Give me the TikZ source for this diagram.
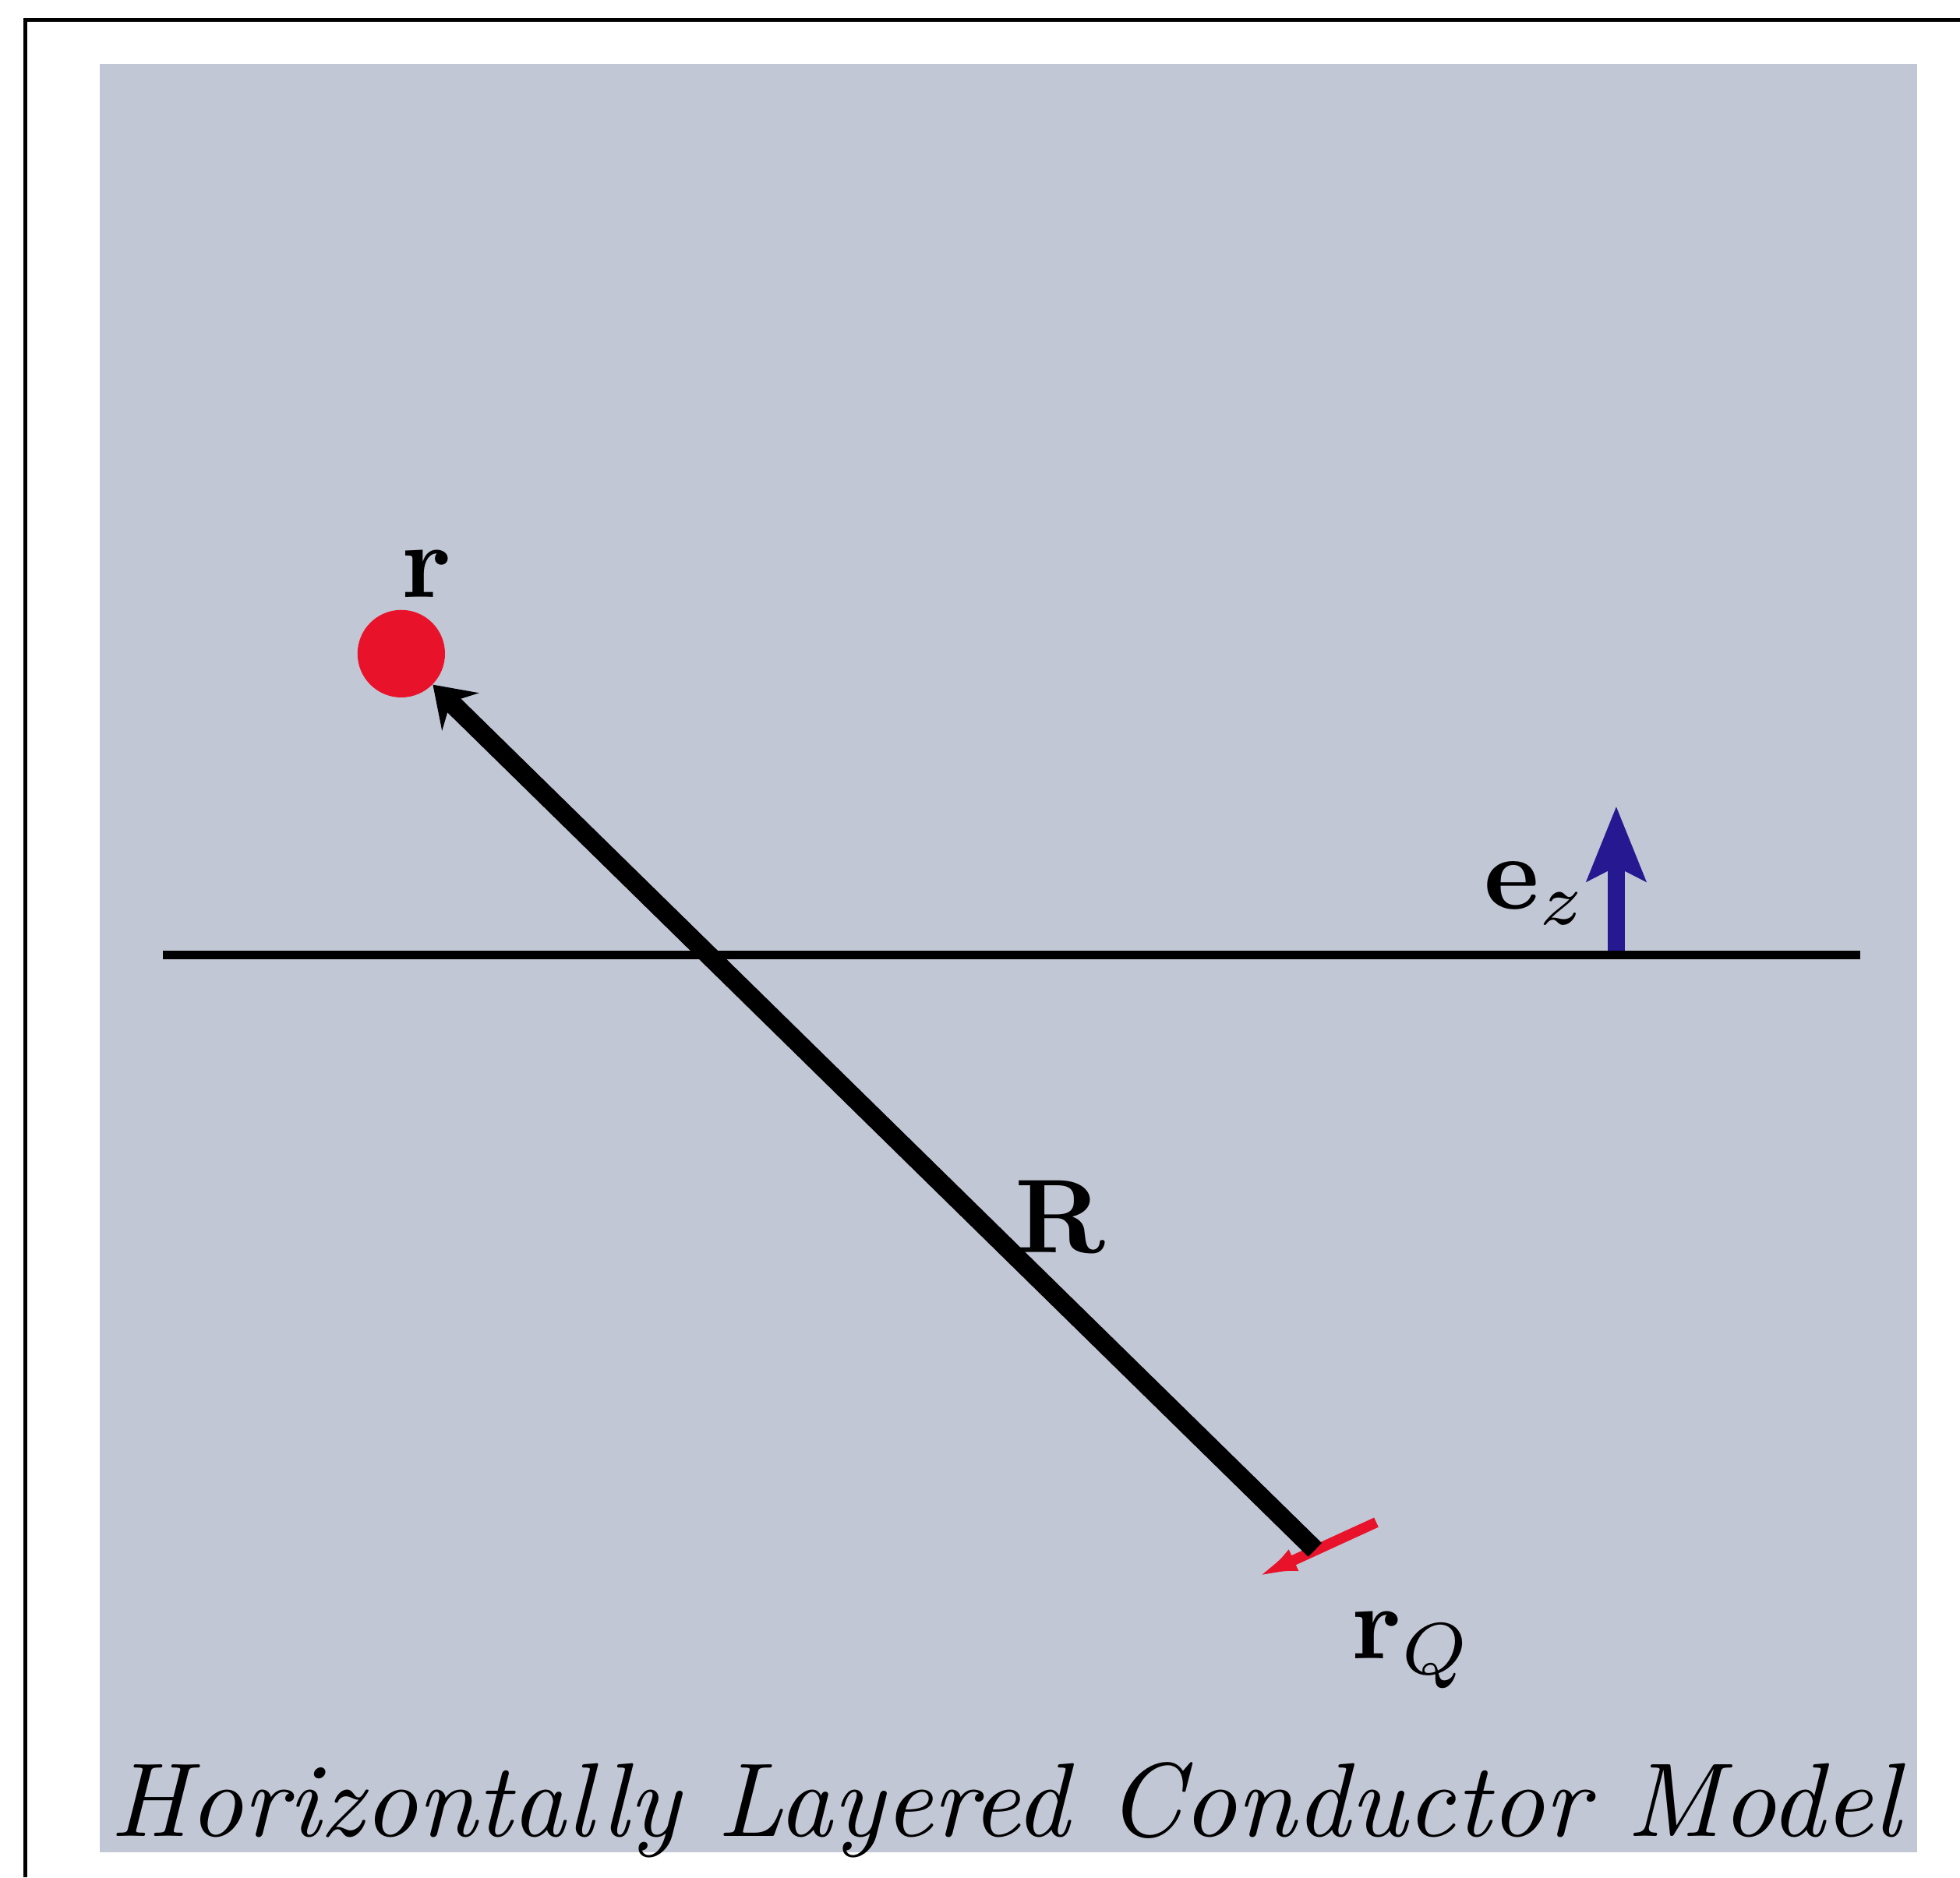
\RequirePackage{fix-cm}
\documentclass[tikz,border=0pt]{standalone}
\usetikzlibrary{arrows.meta}
\definecolor{panel}{RGB}{193,199,212}
\definecolor{dotred}{RGB}{232,18,42}
\definecolor{ezblue}{RGB}{38,24,145}
\newcommand{\figtxt}[1]{\scalebox{3.82}{#1}}
\newcommand{\captxt}[1]{\scalebox{3.85}[3.82]{#1}}
\begin{document}
\begin{tikzpicture}[x=0.16mm,y=-0.16mm,
  lbl/.style={inner sep=0pt, font=\fontsize{10}{12}\selectfont},
  frameline/.style={line width=1.4pt, black},
  layerline/.style={line width=3pt, black},
  rvec/.style={line width=7pt, black, -{Stealth[length=14pt,width=19pt,inset=5pt]}},
  dipole/.style={line width=3.8pt, dotred, -{Latex[length=15pt,width=8.5pt]}},
  ezarrow/.style={line width=6.3pt, ezblue, -{Stealth[length=27pt,width=21pt,inset=5pt]}}]
\fill[white] (0,0) rectangle (1568,1502);
\useasboundingbox (0,0) rectangle (1568,1502);
% frame and panel
\draw[frameline] (20,1502) -- (20,16) -- (1568,16);
\fill[panel] (80,51) rectangle (1534,1482);
% coordinates
\coordinate (hl) at (130,764);
\coordinate (hr) at (1488,764);
\coordinate (ez0) at (1293,764);
\coordinate (ez1) at (1293,645);
\coordinate (Q) at (1052,1240);
\coordinate (qa) at (1101,1218);
\coordinate (qb) at (1005,1262);
% observation point
\node[circle, fill=dotred, inner sep=0pt, minimum size=11.2mm] (rpt) at (321,523) {};
% arrows
\draw[ezarrow] (ez0) -- (ez1);
\draw[layerline] (hl) -- (hr);
\draw[dipole] (qa) -- (qb);
\draw[rvec] (Q) -- (rpt);
% labels
\node[lbl, anchor=base] (rlab) at (341,478) {\figtxt{$\mathbf{r}$}};
\node[lbl, anchor=base] (Rlab) at (848,1002) {\figtxt{$\mathbf{R}$}};
\node[lbl, anchor=base west] (ezlab) at (1187,727) {\figtxt{$\mathbf{e}_z$}};
\node[lbl, anchor=base west] (rqlab) at (1081,1327) {\figtxt{$\mathbf{r}_Q$}};
\node[lbl, anchor=base west] (caption) at (88,1469) {\captxt{\itshape Horizontally Layered Conductor Model}};
\end{tikzpicture}
\end{document}
